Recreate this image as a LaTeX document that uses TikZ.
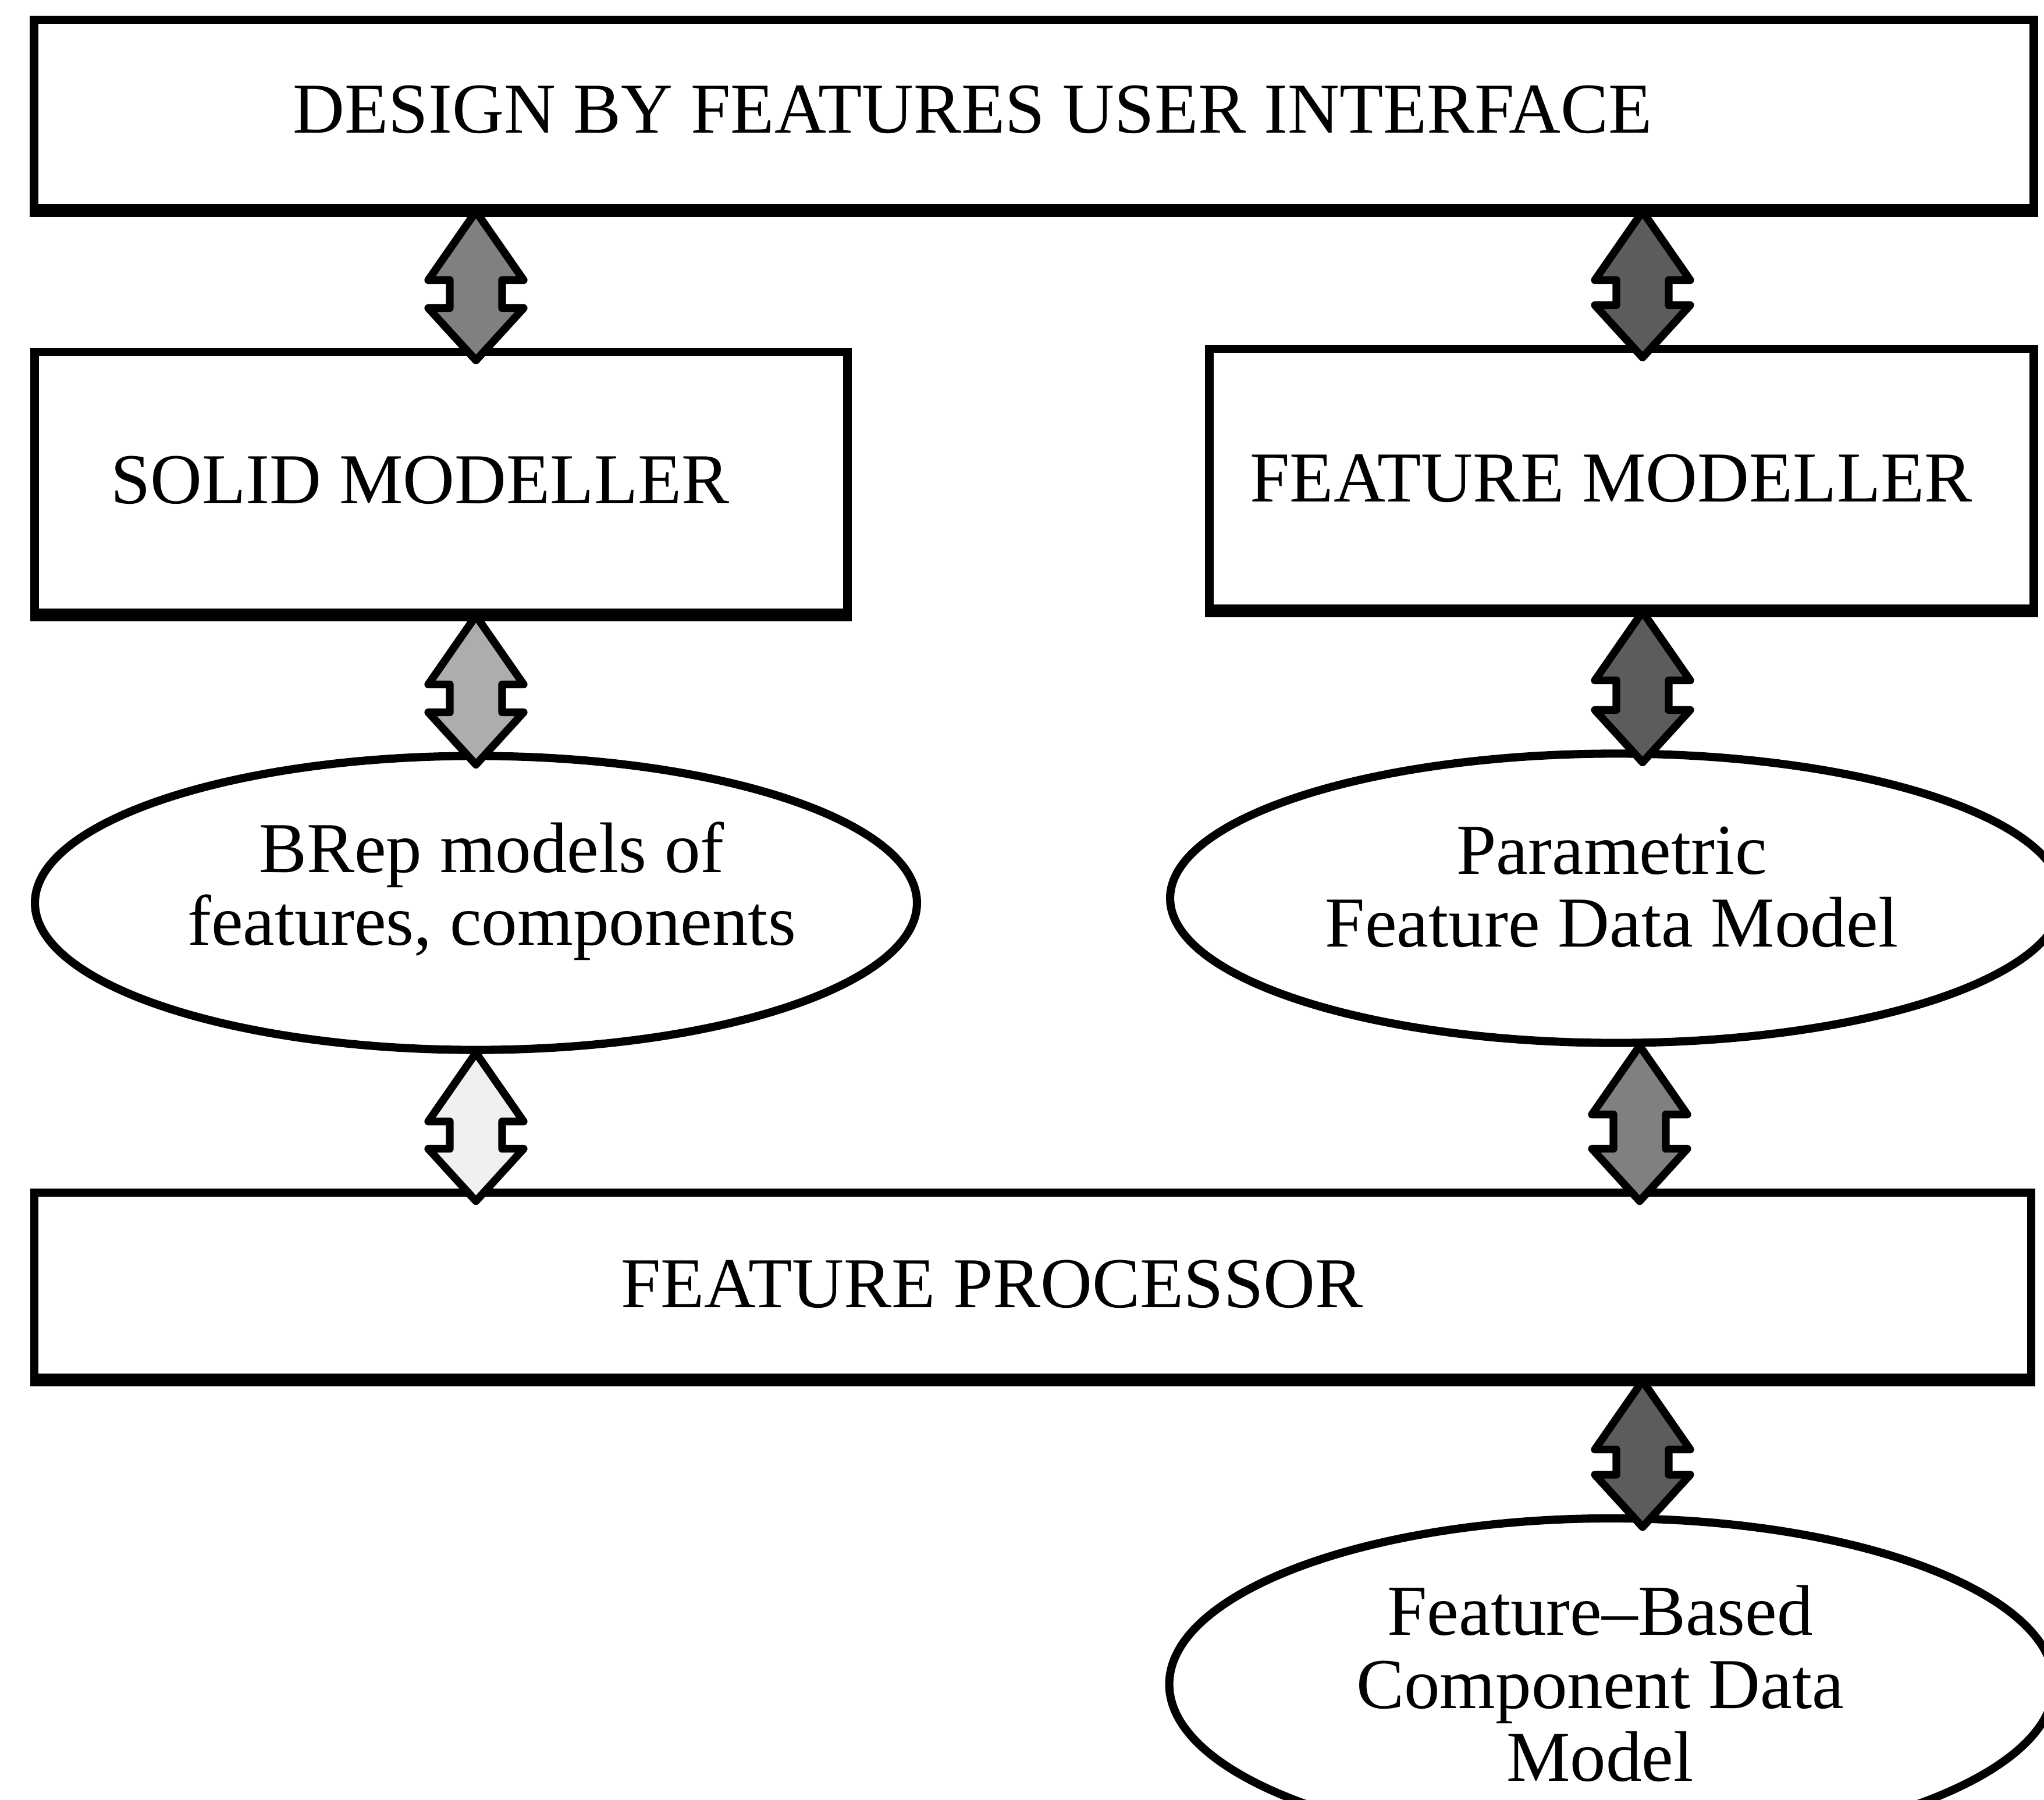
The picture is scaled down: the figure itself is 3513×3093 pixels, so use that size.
\documentclass[tikz,border=0pt]{standalone}
\usepackage{fontspec}
\setmainfont{Liberation Serif}
\usetikzlibrary{shapes.geometric,calc}

\tikzset{
  box/.style={draw, rectangle, line width=4.2pt, inner sep=0pt},
  oval/.style={draw, ellipse, line width=4pt, inner sep=0pt},
  lbl/.style={font=\fontsize{35}{35.6}\selectfont, align=center, inner sep=0pt},
  arrowline/.style={draw, line width=3.8pt, line join=round},
}
\colorlet{darkfill}{black!64}
\colorlet{midfill}{black!50}
\colorlet{lightfill}{black!32}
\colorlet{palefill}{black!6}

% double-headed block arrow between two named end points;
% the upper tip tucks under the border above, the lower tip pokes past the one below
\newcommand\dualarrow[3]{%
  \draw[arrowline, fill=#3] ($(#1)+(0,-2)$) -- ++(82,118) -- ++(-37,0)
    -- ($(#2)+(45,-68)$) -- ++(37,0) -- ++(-82,90) -- ++(-82,-90) -- ++(37,0)
    -- ($(#1)+(-45,116)$) -- ++(-37,0) -- cycle;}

\begin{document}
\begin{tikzpicture}[x=0.01cm, y=-0.01cm]
  \useasboundingbox (0,0) rectangle (3513,3093);

  % boxes
  \node[box, minimum width=34.35cm, minimum height=3.24cm] (ui)   at (1777,196)  {};
  \node[box, minimum width=13.96cm, minimum height=4.48cm] (sm)   at (758,829)   {};
  \node[box, minimum width=14.16cm, minimum height=4.46cm] (fm)   at (2787,823)  {};
  \node[box, minimum width=34.30cm, minimum height=3.18cm] (proc) at (1775,2209) {};

  % data models
  \node[oval, minimum width=15.15cm, minimum height=5.05cm] (brep)  at (818,1552)  {};
  \node[oval, minimum width=15.33cm, minimum height=4.97cm] (param) at (2778,1544) {};
  \node[oval, minimum width=15.20cm, minimum height=5.70cm] (fbc)   at (2770,2895) {};

  % texts
  \node[lbl] (uit)    at (1672,188)  {DESIGN BY FEATURES USER INTERFACE};
  \node[lbl] (smt)    at (722,825)   {SOLID MODELLER};
  \node[lbl] (fmt)    at (2769,822)  {FEATURE MODELLER};
  \node[lbl] (proct)  at (1705,2207) {FEATURE PROCESSOR};
  \node[lbl] (brept)  at (845,1532)  {BRep models of\\features, components};
  \node[lbl] (paramt) at (2770,1525) {Parametric\\Feature Data Model};
  \node[lbl] (fbct)   at (2750,2894) {Feature--Based\\Component Data\\Model};

  % arrow end points
  \coordinate (a1) at (818,0 |- ui.south);   \coordinate (b1) at (818,0 |- sm.north);
  \coordinate (a2) at (2823,0 |- ui.south);  \coordinate (b2) at (2823,0 |- fm.north);
  \coordinate (a3) at (818,0 |- sm.south);   \coordinate (b3) at (818,0 |- brep.north);
  \coordinate (a4) at (2823,0 |- fm.south);  \coordinate (b4) at (2823,0 |- param.north);
  \coordinate (a5) at (818,0 |- brep.south); \coordinate (b5) at (818,0 |- proc.north);
  \coordinate (a6) at (2818,0 |- param.south); \coordinate (b6) at (2818,0 |- proc.north);
  \coordinate (a7) at (2823,0 |- proc.south); \coordinate (b7) at (2823,0 |- fbc.north);

  \dualarrow{a1}{b1}{midfill}
  \dualarrow{a2}{b2}{darkfill}
  \dualarrow{a3}{b3}{lightfill}
  \dualarrow{a4}{b4}{darkfill}
  \dualarrow{a5}{b5}{palefill}
  \dualarrow{a6}{b6}{midfill}
  \dualarrow{a7}{b7}{darkfill}

  % borders drawn again so the tucked-in tips sit behind them
  \draw[line width=4.2pt] (ui.south west) -- (ui.south east);
  \draw[line width=4.2pt] (sm.south west) -- (sm.south east);
  \draw[line width=4.2pt] (fm.south west) -- (fm.south east);
  \draw[line width=4.2pt] (proc.south west) -- (proc.south east);
\end{tikzpicture}
\end{document}
